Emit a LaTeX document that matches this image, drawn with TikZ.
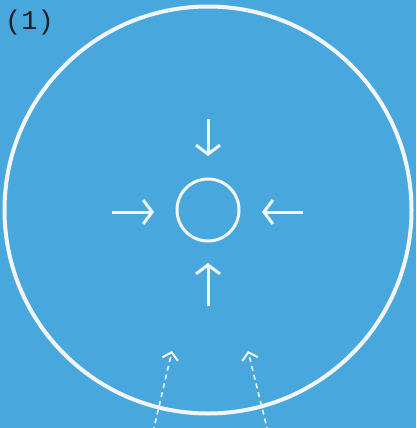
\documentclass[tikz,border=0pt]{standalone}
\usepackage{fontspec}
\setmonofont{Liberation Mono}
\usetikzlibrary{arrows.meta}
\definecolor{bgblue}{RGB}{72,168,222}
\definecolor{chalk}{RGB}{242,246,248}
\definecolor{ink}{RGB}{30,30,35}
\tikzset{
  pusharrow/.style={draw=chalk, line width=3pt, -{Straight Barb[length=9pt,width=24pt,line width=3pt]}},
  dasharrow/.style={draw=chalk, line width=1.6pt, dash pattern=on 5pt off 4pt, -{Straight Barb[length=7pt,width=16pt,line width=2pt]}},
}
\begin{document}
\begin{tikzpicture}[x=1pt,y=-1pt]
\fill[bgblue] (0,0) rectangle (416,428);
\useasboundingbox (0,0) rectangle (416,428);
\node[anchor=west, inner sep=0pt, text=ink, font=\ttfamily\fontsize{27}{27}\selectfont] (label) at (5,23) {(1)};
\node[circle, draw=chalk, line width=4pt, minimum size=407pt, inner sep=0pt] (outer) at (208,210) {};
\node[circle, draw=chalk, line width=3pt, minimum size=62pt, inner sep=0pt] (inner) at (208,210) {};
\coordinate (ts) at (208,119);
\coordinate (te) at (208,156);
\coordinate (ls) at (112,212);
\coordinate (le) at (154,212);
\coordinate (rs) at (303,212);
\coordinate (re) at (262,212);
\coordinate (bs) at (208,306);
\coordinate (be) at (208,263);
\draw[pusharrow] (ts) -- (te);
\draw[pusharrow] (ls) -- (le);
\draw[pusharrow] (rs) -- (re);
\draw[pusharrow] (bs) -- (be);
\coordinate (d1s) at (153,432);
\coordinate (d1e) at (172,351);
\coordinate (d2s) at (268,432);
\coordinate (d2e) at (248,351);
\draw[dasharrow] (d1s) -- (d1e);
\draw[dasharrow] (d2s) -- (d2e);
\end{tikzpicture}
\end{document}
